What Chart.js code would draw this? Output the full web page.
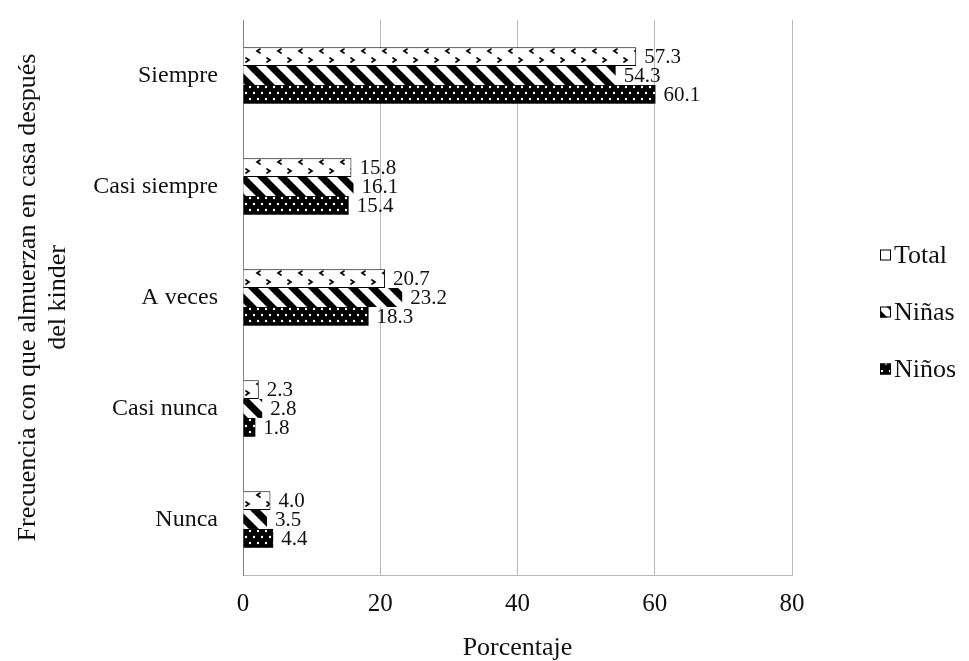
<!DOCTYPE html>
<html><head><meta charset="utf-8">
<script src="https://cdn.jsdelivr.net/npm/chart.js@4.4.0/dist/chart.umd.min.js"></script>
<style>html,body{margin:0;padding:0;background:#fff}#wrap{width:969px;height:661px;position:relative}</style>
</head><body><div id="wrap"><canvas id="c"></canvas></div>
<script>
const categories = ['Siempre', 'Casi siempre', 'A veces', 'Casi nunca', 'Nunca'];
const seriesNames = ['Total', 'Niñas', 'Niños'];
const totalValues = [57.3, 15.8, 20.7, 2.3, 4.0];
const ninasValues = [54.3, 16.1, 23.2, 2.8, 3.5];
const ninosValues = [60.1, 15.4, 18.3, 1.8, 4.4];
const xTickValues = [0, 20, 40, 60, 80];
const xTitle = 'Porcentaje';
const yTitle = ['Frecuencia con que almuerzan en casa después', 'del kinder'];

const SERIF = '"Liberation Serif", "Times New Roman", serif';

function makePattern(w, h, draw) {
  const c = document.createElement('canvas');
  c.width = w; c.height = h;
  const g = c.getContext('2d');
  draw(g, w, h);
  return g.createPattern(c, 'repeat');
}
// tile height 37 = one third of the category spacing, so every bar of a series shows the same phase
const patTotal = makePattern(21, 37, (g, w, h) => {
  g.fillStyle = '#fff'; g.fillRect(0, 0, w, h);
  g.strokeStyle = '#000'; g.lineWidth = 1.7; g.lineCap = 'round';
  g.beginPath(); g.moveTo(8, 12); g.lineTo(5, 14); g.lineTo(8, 16); g.stroke();
  g.beginPath(); g.moveTo(15, 21); g.lineTo(18, 23); g.lineTo(15, 25); g.stroke();
});
const patNinas = makePattern(20, 20, (g, w, h) => {
  g.fillStyle = '#fff'; g.fillRect(0, 0, w, h);
  g.fillStyle = '#000';
  for (const k of [-40, -20, 0, 20]) {
    g.beginPath();
    g.moveTo(k, 0); g.lineTo(k + 10, 0); g.lineTo(k + 30, 20); g.lineTo(k + 20, 20);
    g.closePath(); g.fill();
  }
});
const patNinos = makePattern(8, 37, (g, w, h) => {
  g.fillStyle = '#000'; g.fillRect(0, 0, w, h);
  g.fillStyle = '#fff';
  for (const [x, y] of [[2, 1], [6, 7], [2, 13], [6, 19], [2, 25], [6, 31]]) {
    g.beginPath(); g.arc(x, y, 1.2, 0, Math.PI * 2); g.fill();
  }
});

const valueLabels = {
  id: 'valueLabels',
  afterDatasetsDraw(chart) {
    const ctx = chart.ctx;
    ctx.save();
    ctx.font = '21px ' + SERIF;
    ctx.fillStyle = '#111';
    ctx.textAlign = 'left';
    ctx.textBaseline = 'middle';
    chart.data.datasets.forEach((ds, di) => {
      chart.getDatasetMeta(di).data.forEach((bar, i) => {
        ctx.fillText(ds.data[i].toFixed(1), bar.x + 8, bar.y + 1);
      });
    });
    ctx.restore();
  }
};

const customLegend = {
  id: 'customLegend',
  afterDraw(chart) {
    const ctx = chart.ctx;
    const x = 880, y0 = 255, step = 57, box = 11;
    ctx.save();
    ctx.font = '26px ' + SERIF;
    ctx.textBaseline = 'middle';
    ctx.textAlign = 'left';
    chart.data.datasets.forEach((ds, i) => {
      const y = y0 + i * step;
      ctx.fillStyle = ds.backgroundColor;
      ctx.fillRect(x, y - box / 2, box, box);
      ctx.strokeStyle = '#000'; ctx.lineWidth = 1;
      ctx.strokeRect(x + 0.5, y - box / 2 + 0.5, box - 1, box - 1);
      ctx.fillStyle = '#111';
      ctx.fillText(ds.label, x + box + 3, y + 1);
    });
    ctx.restore();
  }
};

const gridColor = 'rgba(0,0,0,0.28)';

new Chart(document.getElementById('c'), {
  type: 'bar',
  data: {
    labels: categories,
    datasets: [
      { label: seriesNames[0], data: totalValues, backgroundColor: patTotal, borderColor: '#000', borderWidth: 1 },
      { label: seriesNames[1], data: ninasValues, backgroundColor: patNinas, borderColor: '#000', borderWidth: 0 },
      { label: seriesNames[2], data: ninosValues, backgroundColor: patNinos, borderColor: '#000', borderWidth: 0 }
    ]
  },
  options: {
    indexAxis: 'y',
    responsive: true,
    maintainAspectRatio: false,
    animation: false,
    layout: { padding: { left: 13, top: 20, right: 177, bottom: 0 } },
    datasets: { bar: { categoryPercentage: 0.51, barPercentage: 1.0 } },
    plugins: { legend: { display: false }, tooltip: { enabled: false } },
    scales: {
      x: {
        min: 0, max: 80,
        afterBuildTicks(scale) { scale.ticks = xTickValues.map(v => ({ value: v })); },
        afterFit(scale) { scale.height = 86; },
        grid: { color: gridColor, drawTicks: false, tickLength: 0 },
        border: { display: true, color: gridColor },
        ticks: { font: { family: SERIF, size: 25 }, color: '#111', padding: 14 },
        title: { display: true, text: xTitle, font: { family: SERIF, size: 26, lineHeight: 1 }, color: '#111', padding: 0 }
      },
      y: {
        afterFit(scale) { scale.width = 230; scale.paddingTop = 0; scale.paddingBottom = 0; },
        grid: { display: false, drawTicks: false, tickLength: 0 },
        border: { display: true, color: gridColor },
        ticks: { font: { family: SERIF, size: 24 }, color: '#111', padding: 25 },
        title: { display: true, text: yTitle, font: { family: SERIF, size: 26, lineHeight: 1.15 }, color: '#111', padding: 0 }
      }
    }
  },
  plugins: [valueLabels, customLegend]
});
</script>
</body></html>
